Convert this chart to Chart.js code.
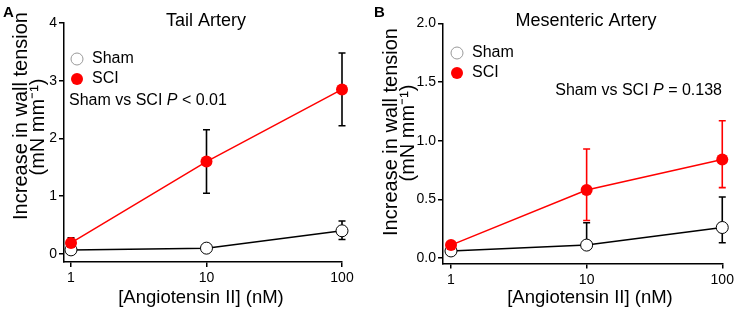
<!DOCTYPE html>
<html>
<head>
<meta charset="utf-8">
<script src="https://cdn.jsdelivr.net/npm/chart.js@4.4.0/dist/chart.umd.min.js"></script>
<style>
  body { margin: 0; background: #fff; }
  #wrap { position: relative; width: 737px; height: 315px; }
  canvas { position: absolute; top: 0; }
</style>
</head>
<body>
<div id="wrap">
  <canvas id="chartA" width="370" height="315" style="left:0"></canvas>
  <canvas id="chartB" width="367" height="315" style="left:370px"></canvas>
</div>
<script>
// doses (nM)
const doses = [1, 10, 100];
const xTicks = [1, 10, 100];

// Tail artery
const tailSham = [0.07, 0.10, 0.40];
const tailShamHi = [0.10, 0.13, 0.57];
const tailShamLo = [0.04, 0.07, 0.25];
const tailSci = [0.19, 1.60, 2.85];
const tailSciHi = [0.28, 2.15, 3.48];
const tailSciLo = [0.10, 1.05, 2.22];
const tailYTicks = [0, 1, 2, 3, 4];

// Mesenteric artery
const mesSham = [0.06, 0.11, 0.26];
const mesShamHi = [0.08, 0.30, 0.52];
const mesShamLo = [0.04, 0.08, 0.13];
const mesSci = [0.11, 0.58, 0.84];
const mesSciHi = [0.13, 0.93, 1.17];
const mesSciLo = [0.09, 0.32, 0.60];
const mesYTicks = [0, 0.5, 1.0, 1.5, 2.0];

const FONT = '"Liberation Sans", Arial, Helvetica, sans-serif';

// error bars drawn under the markers
const errorBars = {
  id: 'errorBars',
  beforeDatasetsDraw(chart) {
    const c = chart.ctx, xs = chart.scales.x, ys = chart.scales.y;
    chart.data.datasets.forEach(ds => {
      c.save();
      c.strokeStyle = ds.errColor;
      c.lineWidth = 1.6;
      ds.data.forEach((v, i) => {
        const x = xs.getPixelForValue(doses[i]);
        const yh = ys.getPixelForValue(ds.errHi[i]);
        const yl = ys.getPixelForValue(ds.errLo[i]);
        c.beginPath();
        c.moveTo(x, yh); c.lineTo(x, yl);
        c.moveTo(x - 3.5, yh); c.lineTo(x + 3.5, yh);
        c.moveTo(x - 3.5, yl); c.lineTo(x + 3.5, yl);
        c.stroke();
      });
      c.restore();
    });
  }
};

// titles, legend and annotation
const decor = {
  id: 'decor',
  afterDraw(chart, args, o) {
    const c = chart.ctx;
    c.save();
    c.fillStyle = '#000';
    c.textBaseline = 'middle';

    c.font = 'bold 15px ' + FONT;
    c.textAlign = 'left';
    c.fillText(o.letter, o.letterX, 13);

    c.font = '18px ' + FONT;
    c.textAlign = 'center';
    c.fillText(o.title, o.titleX, 21);
    c.font = '18.5px ' + FONT;
    c.fillText('[Angiotensin II] (nM)', o.xTitleX, 298);

    c.font = '20px ' + FONT;
    c.save();
    c.translate(21, o.yT1);
    c.rotate(-Math.PI / 2);
    c.fillText('Increase in wall tension', 0, 0);
    c.restore();
    c.save();
    c.translate(38, o.yT2);
    c.rotate(-Math.PI / 2);
    c.fillText('(mN mm\u207B\u00B9)', 0, 0);
    c.restore();

    // legend
    c.font = '16px ' + FONT;
    c.textAlign = 'left';
    c.lineWidth = 1;
    c.beginPath();
    c.arc(o.legX, o.legY, 6, 0, Math.PI * 2);
    c.fillStyle = '#fff'; c.fill();
    c.strokeStyle = '#999'; c.stroke();
    c.beginPath();
    c.arc(o.legX, o.legY + 20, 6, 0, Math.PI * 2);
    c.fillStyle = '#ff0000'; c.fill();
    c.fillStyle = '#000';
    c.fillText('Sham', o.legX + 15, o.legY);
    c.fillText('SCI', o.legX + 15, o.legY + 20);

    // stats text with italic P
    const a = 'Sham vs SCI ', p = 'P', b = o.pText;
    c.font = '16px ' + FONT;
    const wa = c.measureText(a).width, wb = c.measureText(b).width;
    c.font = 'italic 16px ' + FONT;
    const wp = c.measureText(p).width;
    let x = o.statAlign === 'right' ? o.statX - (wa + wp + wb) : o.statX;
    c.font = '16px ' + FONT;
    c.fillText(a, x, o.statY);
    c.font = 'italic 16px ' + FONT;
    c.fillText(p, x + wa, o.statY);
    c.font = '16px ' + FONT;
    c.fillText(b, x + wa + wp, o.statY);
    c.restore();
  }
};

function makeChart(id, sham, shamHi, shamLo, sci, sciHi, sciLo, yTicks, cfg) {
  new Chart(document.getElementById(id), {
    type: 'line',
    data: {
      datasets: [
        {
          label: 'SCI',
          data: doses.map((d, i) => ({ x: d, y: sci[i] })),
          borderColor: '#ff0000',
          backgroundColor: '#ff0000',
          borderWidth: 1.5,
          pointRadius: 6,
          pointBorderWidth: 0,
          pointBackgroundColor: '#ff0000',
          clip: false,
          errHi: sciHi, errLo: sciLo, errColor: cfg.sciErr
        },
        {
          label: 'Sham',
          data: doses.map((d, i) => ({ x: d, y: sham[i] })),
          borderColor: '#000',
          backgroundColor: '#fff',
          borderWidth: 1.5,
          pointRadius: 6,
          pointBorderWidth: 1,
          pointBorderColor: '#000',
          pointBackgroundColor: '#fff',
          clip: false,
          errHi: shamHi, errLo: shamLo, errColor: '#000'
        }
      ]
    },
    options: {
      responsive: false,
      animation: false,
      devicePixelRatio: 1,
      layout: { padding: { top: cfg.top, right: cfg.right, left: 0, bottom: 0 } },
      scales: {
        x: {
          type: 'logarithmic',
          min: cfg.xMin, max: cfg.xMax,
          afterBuildTicks: s => { s.ticks = xTicks.map(v => ({ value: v })); },
          afterFit: s => { s.height = cfg.xH; },
          grid: { drawOnChartArea: false, drawTicks: true, tickLength: 5, color: '#000', lineWidth: 1.5 },
          border: { color: '#000', width: 1.5 },
          ticks: { color: '#000', font: { family: FONT, size: 14 }, padding: 3, maxRotation: 0,
                   callback: v => String(v) }
        },
        y: {
          min: cfg.yMin, max: cfg.yMax,
          afterBuildTicks: s => { s.ticks = yTicks.map(v => ({ value: v })); },
          afterFit: s => { s.width = cfg.yW; },
          grid: { drawOnChartArea: false, drawTicks: true, tickLength: 5, color: '#000', lineWidth: 1.5 },
          border: { color: '#000', width: 1.5 },
          ticks: { color: '#000', font: { family: FONT, size: 14 }, padding: 2,
                   callback: v => cfg.fmt(v) }
        }
      },
      plugins: {
        legend: { display: false },
        tooltip: { enabled: false },
        decor: cfg.decor
      }
    },
    plugins: [errorBars, decor]
  });
}

makeChart('chartA', tailSham, tailShamHi, tailShamLo, tailSci, tailSciHi, tailSciLo, tailYTicks, {
  top: 23, right: 28, xH: 53, yW: 64,
  xMin: 0.888, xMax: 100, yMin: -0.14, yMax: 4,
  sciErr: '#000', fmt: v => String(v),
  decor: { letter: 'A', letterX: 3, title: 'Tail Artery', titleX: 206, xTitleX: 201, yT1: 116, yT2: 127,
           legX: 77, legY: 59, pText: ' < 0.01', statX: 69, statY: 101, statAlign: 'left' }
});

makeChart('chartB', mesSham, mesShamHi, mesShamLo, mesSci, mesSciHi, mesSciLo, mesYTicks, {
  top: 23.5, right: 14.5, xH: 51.5, yW: 73,
  xMin: 0.873, xMax: 100.4, yMin: -0.047, yMax: 2.0,
  sciErr: '#ff0000', fmt: v => v.toFixed(1),
  decor: { letter: 'B', letterX: 4, title: 'Mesenteric Artery', titleX: 216, xTitleX: 220, yT1: 132, yT2: 133,
           legX: 87, legY: 53, pText: ' = 0.138', statX: 352, statY: 91, statAlign: 'right' }
});
</script>
</body>
</html>
